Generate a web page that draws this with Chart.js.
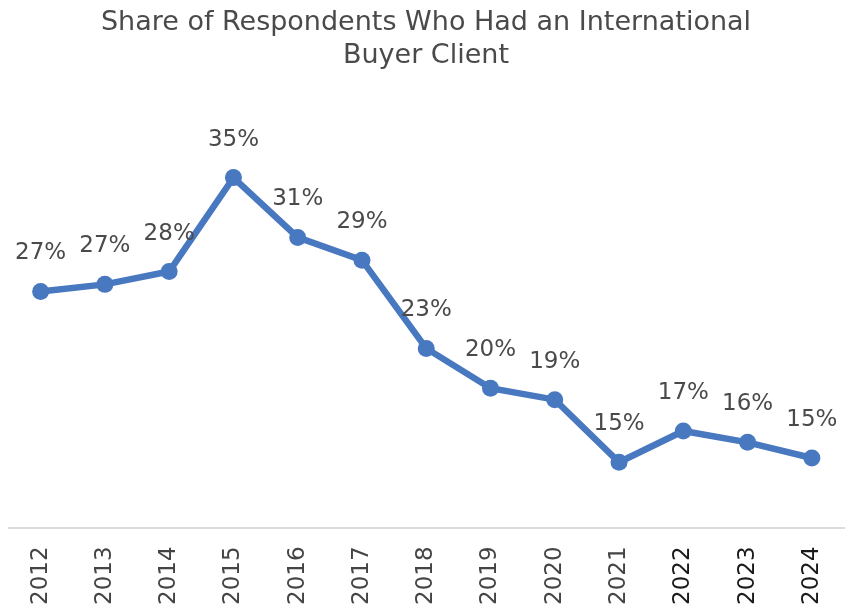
<!DOCTYPE html>
<html>
<head>
<meta charset="utf-8">
<script src="https://cdn.jsdelivr.net/npm/chart.js@4/dist/chart.umd.min.js"></script>
<style>
  html, body { margin: 0; padding: 0; background: #ffffff; }
  #wrap { width: 854px; height: 612px; position: relative; }
</style>
</head>
<body>
<div id="wrap"><canvas id="c"></canvas></div>
<script>
const titleLines = ["Share of Respondents Who Had an International", "Buyer Client"];
const years = ["2012","2013","2014","2015","2016","2017","2018","2019","2020","2021","2022","2023","2024"];
const shares = [27.0, 27.5, 28.4, 35.0, 30.8, 29.2, 23.0, 20.2, 19.4, 15.0, 17.2, 16.4, 15.3];
const shareLabels = ["27%","27%","28%","35%","31%","29%","23%","20%","19%","15%","17%","16%","15%"];
const yearColors = ["#444","#444","#444","#444","#444","#444","#444","#444","#444","#444","#1a1a1a","#1a1a1a","#1a1a1a"];

const FONT = "'DejaVu Sans', sans-serif";
const BLUE = "#4878c0";

const valueLabels = {
  id: "valueLabels",
  afterDatasetsDraw(chart) {
    const ctx = chart.ctx;
    const meta = chart.getDatasetMeta(0);
    ctx.save();
    ctx.font = "23px " + FONT;
    ctx.fillStyle = "#4a4a4a";
    ctx.textAlign = "center";
    ctx.textBaseline = "middle";
    meta.data.forEach((pt, i) => {
      ctx.fillText(shareLabels[i], pt.x, pt.y - 38);
    });
    ctx.restore();
  }
};

new Chart(document.getElementById("c"), {
  type: "line",
  data: {
    labels: years,
    datasets: [{
      data: shares,
      borderColor: BLUE,
      backgroundColor: BLUE,
      borderWidth: 6.5,
      pointRadius: 8.5,
      pointBackgroundColor: BLUE,
      pointBorderColor: BLUE,
      pointBorderWidth: 0,
      tension: 0,
      fill: false
    }]
  },
  options: {
    responsive: true,
    maintainAspectRatio: false,
    animation: false,
    layout: { padding: { left: 8, right: 10, top: 0, bottom: -3 } },
    plugins: {
      legend: { display: false },
      tooltip: { enabled: false },
      title: {
        display: true,
        text: titleLines,
        color: "#4a4a4a",
        font: { family: FONT, size: 27, weight: "normal", lineHeight: 1.22 },
        padding: { top: 7, bottom: 35 }
      }
    },
    scales: {
      x: {
        offset: true,
        grid: { display: false },
        border: { display: true, color: "#dcdcdc", width: 2 },
        ticks: {
          minRotation: 90,
          maxRotation: 90,
          padding: 10,
          color: yearColors,
          font: { family: FONT, size: 23 }
        }
      },
      y: {
        display: false,
        min: 10.35,
        max: 39.9
      }
    }
  },
  plugins: [valueLabels]
});
</script>
</body>
</html>
